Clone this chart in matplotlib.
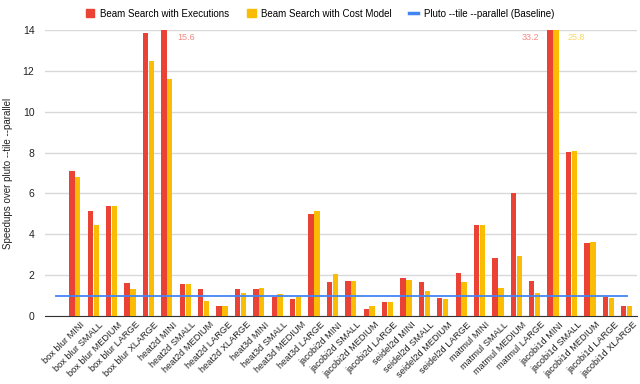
import numpy as np
import matplotlib.pyplot as plt
import matplotlib.transforms as mtransforms
from matplotlib.patches import Patch
from matplotlib.lines import Line2D

plt.rcParams['font.family'] = ['Liberation Sans', 'DejaVu Sans']

labels = ["box blur MINI", "box blur SMALL", "box blur MEDIUM", "box blur LARGE", "box blur XLARGE",
          "heat2d MINI", "heat2d SMALL", "heat2d MEDIUM", "heat2d LARGE", "heat2d XLARGE",
          "heat3d MINI", "heat3d SMALL", "heat3d MEDIUM", "heat3d LARGE",
          "jacobi2d MINI", "jacobi2d SMALL", "jacobi2d MEDIUM", "jacobi2d LARGE",
          "seidel2d MINI", "seidel2d SMALL", "seidel2d MEDIUM", "seidel2d LARGE",
          "matmul MINI", "matmul SMALL", "matmul MEDIUM", "matmul LARGE",
          "jacobi1d MINI", "jacobi1d SMALL", "jacobi1d MEDIUM", "jacobi1d LARGE", "jacobi1d XLARGE"]

executions = [7.11, 5.15, 5.40, 1.60, 13.83,
              15.6, 1.57, 1.34, 0.49, 1.34,
              1.34, 0.95, 0.82, 4.98,
              1.66, 1.70, 0.36, 0.70,
              1.86, 1.66, 0.88, 2.12,
              4.47, 2.85, 6.04, 1.71,
              33.2, 8.03, 3.56, 0.95, 0.49]

cost_model = [6.79, 4.44, 5.40, 1.34, 12.46,
              11.62, 1.57, 0.72, 0.49, 1.14,
              1.37, 1.08, 0.91, 5.12,
              2.06, 1.70, 0.49, 0.67,
              1.76, 1.24, 0.82, 1.66,
              4.47, 1.37, 2.94, 1.14,
              25.8, 8.09, 3.61, 0.88, 0.49]

baseline = 1.0

red = "#EA4335"
yellow = "#FBBC04"
blue = "#4285F4"

fig = plt.figure(figsize=(6.4, 3.84), dpi=100)
ax = fig.add_axes([0.071, 0.177, 0.924, 0.745])

x = np.arange(1, len(labels) + 1)
w = 0.29
ax.bar(x - 0.16, executions, w, color=red, zorder=3)
ax.bar(x + 0.16, cost_model, w, color=yellow, zorder=3)

# baseline line spans an empty leading category too
xl = np.arange(0, len(labels) + 1)
ax.plot(xl, [baseline] * len(xl), color=blue, lw=1.3, zorder=4)

ax.set_ylim(0, 14)
ax.set_xlim(-0.6, 31.55)
ax.set_yticks(range(0, 15, 2))
ax.yaxis.grid(True, color="#d9d9d9", lw=1, zorder=0)
for s in ["top", "right", "left"]:
    ax.spines[s].set_visible(False)
ax.spines["bottom"].set_color("#333333")
ax.tick_params(axis="y", length=0, labelsize=7.5, pad=8, colors="#222222")
ax.tick_params(axis="x", length=0, labelsize=6.7, pad=3, colors="#222222")
ax.set_xticks(x)
ax.set_xticklabels(labels, rotation=45, ha="right", rotation_mode="anchor")
shift = mtransforms.ScaledTranslation(4 / 72, 0, fig.dpi_scale_trans)
for lab in ax.get_xticklabels():
    lab.set_transform(lab.get_transform() + shift)
ax.set_ylabel("Speedups over pluto --tile --parallel", fontsize=7, color="#222222", labelpad=7)

# labels for clipped bars
ax.text(6 - 0.16 + 0.75, 13.65, "15.6", color="#F28B82", fontsize=6.5, ha="left", va="center")
ax.text(27 - 0.16 - 0.6, 13.65, "33.2", color="#F28B82", fontsize=6.5, ha="right", va="center")
ax.text(27 + 0.16 + 0.6, 13.65, "25.8", color="#FDD663", fontsize=6.5, ha="left", va="center")

handles = [Patch(color=red, label="Beam Search with Executions"),
           Patch(color=yellow, label="Beam Search with Cost Model"),
           Line2D([], [], color=blue, lw=2.5, label="Pluto --tile --parallel (Baseline)")]
fig.legend(handles=handles, loc="upper center", bbox_to_anchor=(0.5, 1.0), ncol=3,
           frameon=False, fontsize=7, handlelength=0.9, handleheight=0.9,
           columnspacing=1.8, handletextpad=0.6)

fig.savefig("out.png", dpi=100)
